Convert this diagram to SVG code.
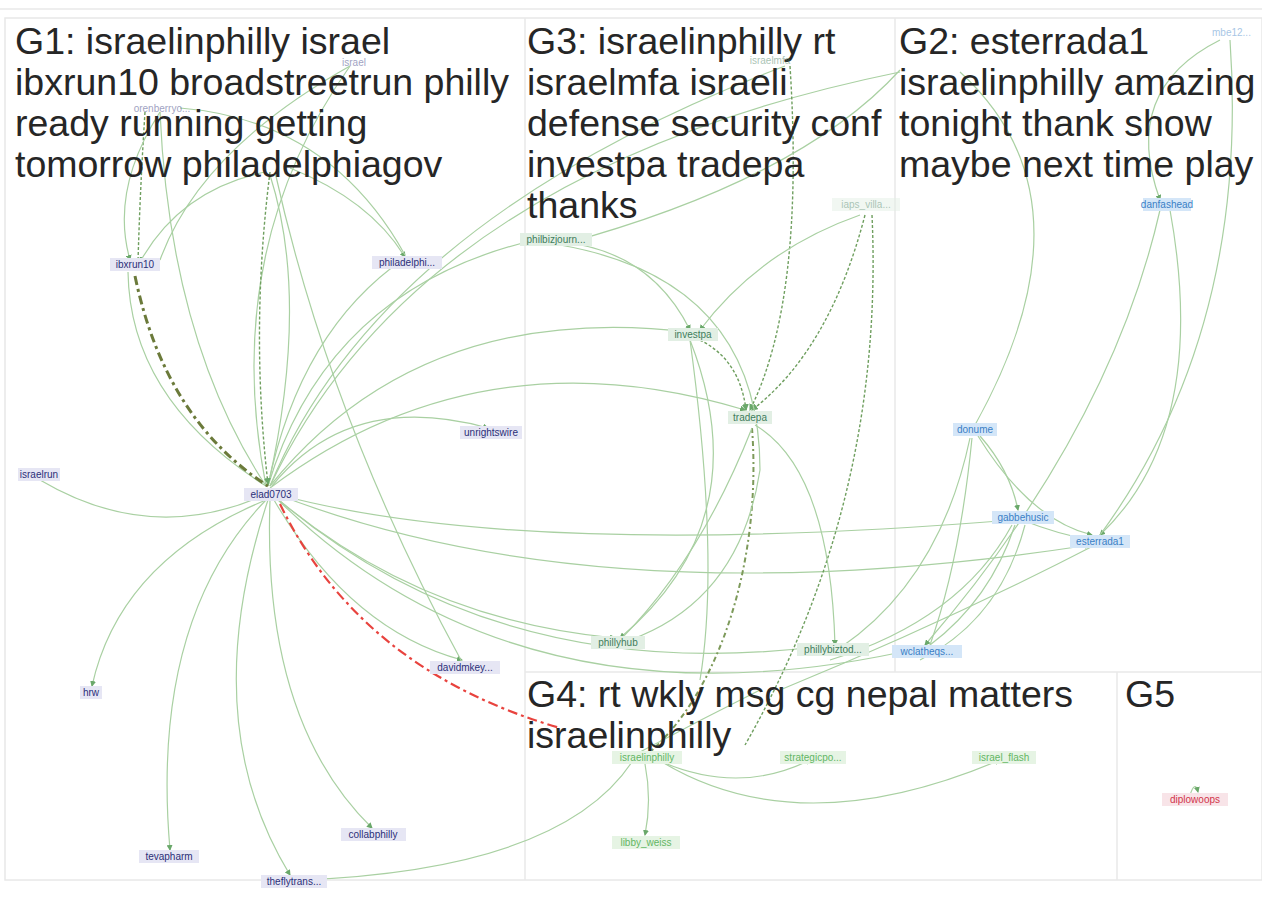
<svg xmlns="http://www.w3.org/2000/svg" width="1262" height="906" viewBox="0 0 1262 906">
<defs>
<marker id="ah" viewBox="0 0 6 6" refX="5" refY="3" markerWidth="5" markerHeight="5" orient="auto"><path d="M0,0 L6,3 L0,6 z" fill="#6aa86a"/></marker>
</defs>
<style>
.title{font-family:"Liberation Sans",Arial,sans-serif;font-size:37.5px;fill:#262626}
.lbl{font-family:"Liberation Sans",Arial,sans-serif;font-size:10px}
.g1 text{fill:#2b2f78}.g1 rect{fill:#e6e6f4}
.g3 text{fill:#3f7d5c}.g3 rect{fill:#e2efe4}
.g2 text{fill:#3a7fc6}.g2 rect{fill:#d4e6f8}
.g4 text{fill:#63b663}.g4 rect{fill:#e6f4e4}
.g5 text{fill:#d2344a}.g5 rect{fill:#f8e4e8}
.faint{opacity:.45}
.e{fill:none;stroke:#a9d0a2;stroke-width:1.2}
.ed{fill:none;stroke:#6f9f5f;stroke-width:1.4;stroke-dasharray:3 2}
.frame{fill:none;stroke:#e8e8e8;stroke-width:1.5}
</style>
<rect width="1262" height="906" fill="#ffffff"/>
<line x1="0" y1="9" x2="1262" y2="9" stroke="#eeeeee" stroke-width="2"/>
<g id="panels">
<rect class="frame" x="5" y="18" width="1257" height="862"/>
<line class="frame" x1="525" y1="18" x2="525" y2="880"/>
<line class="frame" x1="895" y1="18" x2="895" y2="672"/>
<line class="frame" x1="525" y1="672" x2="1262" y2="672"/>
<line class="frame" x1="1117" y1="672" x2="1117" y2="880"/>
</g>
<g id="connectors">
<!-- G1 -->
<path class="e" d="M40,480 Q150,545 262,496" marker-end="url(#ah)"/>
<path class="e" d="M266,500 Q120,560 92,686" marker-end="url(#ah)"/>
<path class="e" d="M266,500 Q150,620 170,850" marker-end="url(#ah)"/>
<path class="e" d="M268,500 Q195,720 290,875" marker-end="url(#ah)"/>
<path class="e" d="M270,500 Q262,720 372,828" marker-end="url(#ah)"/>
<path class="e" d="M274,500 Q350,630 462,660" marker-end="url(#ah)"/>
<path class="e" d="M272,486 Q350,390 488,428" marker-end="url(#ah)"/>
<path class="e" d="M268,486 Q300,330 405,258" marker-end="url(#ah)"/>
<path class="e" d="M268,486 Q330,280 553,236" marker-end="url(#ah)"/>
<path class="e" d="M270,486 Q420,170 900,72"/>
<path class="e" d="M270,486 Q380,220 785,66"/>
<path class="e" d="M266,486 Q130,400 128,272"/>
<path class="e" d="M266,486 Q170,340 160,112"/>
<path class="e" d="M266,486 Q220,250 350,66"/>
<path class="e" d="M268,486 Q310,300 270,175"/>
<path class="e" d="M270,486 Q420,300 690,332" marker-end="url(#ah)"/>
<path class="e" d="M270,488 Q480,330 745,410" marker-end="url(#ah)"/>
<path class="e" d="M274,496 Q420,620 615,638" marker-end="url(#ah)"/>
<path class="e" d="M274,496 Q500,690 830,645" marker-end="url(#ah)"/>
<path class="e" d="M274,496 Q520,740 920,648" marker-end="url(#ah)"/>
<path class="e" d="M276,494 Q600,620 1090,545" marker-end="url(#ah)"/>
<path class="e" d="M276,494 Q520,560 1012,520"/>
<path fill="none" stroke="#6b7a3a" stroke-width="3" stroke-dasharray="9 4 3 4" d="M135,276 Q165,420 268,486"/>
<path class="ed" d="M270,172 Q250,330 268,484" marker-end="url(#ah)"/>
<path class="ed" d="M145,112 Q140,190 138,262"/>
<path class="e" d="M160,112 Q110,190 130,260" marker-end="url(#ah)"/>
<path class="e" d="M350,66 Q200,150 160,260"/>
<path class="e" d="M265,172 Q180,190 140,262" marker-end="url(#ah)"/>
<path class="e" d="M290,168 Q370,200 405,257" marker-end="url(#ah)"/>
<path class="e" d="M275,172 Q330,420 462,662"/>
<path class="e" d="M180,108 Q330,120 405,255"/>
<path fill="none" stroke="#e8433e" stroke-width="2.2" stroke-dasharray="10 4 3 4" d="M280,504 Q360,670 560,728"/>
<!-- G3 -->
<path class="e" d="M560,242 Q650,250 690,330" marker-end="url(#ah)"/>
<path class="ed" d="M700,340 Q740,360 746,410" marker-end="url(#ah)"/>
<path class="ed" d="M790,66 Q805,300 750,410" marker-end="url(#ah)"/>
<path class="ed" d="M865,215 Q830,350 752,410" marker-end="url(#ah)"/>
<path class="e" d="M860,215 Q760,250 700,330" marker-end="url(#ah)"/>
<path class="ed" d="M872,215 Q885,500 745,745"/>
<path fill="none" stroke="#7d9a5a" stroke-width="2" stroke-dasharray="5 3 2 3" d="M752,428 C762,560 720,690 650,752"/>
<path class="e" d="M755,425 Q830,470 835,645" marker-end="url(#ah)"/>
<path class="e" d="M690,340 Q760,520 620,638" marker-end="url(#ah)"/>
<path class="e" d="M690,340 Q720,560 700,680"/>
<path class="e" d="M560,245 Q760,280 760,470 Q740,600 630,640"/>
<path class="e" d="M752,428 Q700,560 620,640"/>
<path class="e" d="M560,245 Q800,180 900,70"/>
<!-- G2 -->
<path class="e" d="M1170,210 Q1210,430 1100,535" marker-end="url(#ah)"/>
<path class="e" d="M1160,210 Q1110,430 925,645" marker-end="url(#ah)"/>
<path class="e" d="M1230,40 Q1250,330 1100,535"/>
<path class="e" d="M1220,40 Q1120,90 1160,200" marker-end="url(#ah)"/>
<path class="e" d="M980,436 Q1010,470 1018,510" marker-end="url(#ah)"/>
<path class="e" d="M978,436 Q1030,520 1092,535" marker-end="url(#ah)"/>
<path class="e" d="M972,438 Q960,560 930,645"/>
<path class="e" d="M970,438 Q940,580 840,648"/>
<path class="e" d="M1015,525 Q990,600 930,645"/>
<path class="e" d="M1012,525 Q960,620 830,660"/>
<path class="e" d="M1025,525 Q1000,620 920,660"/>
<path class="e" d="M1095,545 Q950,620 780,690"/>
<path class="e" d="M1022,520 Q1060,535 1092,540"/>
<path class="e" d="M960,72 Q1100,200 975,425"/>
<!-- G4 -->
<path class="e" d="M662,762 Q740,795 810,760" marker-end="url(#ah)"/>
<path class="e" d="M662,762 Q800,845 1000,760" marker-end="url(#ah)"/>
<path class="e" d="M645,764 Q652,800 645,835" marker-end="url(#ah)"/>
<path class="e" d="M632,762 Q560,870 300,880"/>
<path class="e" d="M640,752 Q700,720 760,690"/>
<!-- G5 -->
<path class="e" d="M1190,795 Q1195,780 1198,792" marker-end="url(#ah)"/>
</g>
<g class="title">
<text x="15" y="54">G1: israelinphilly israel</text>
<text x="15" y="95">ibxrun10 broadstreetrun philly</text>
<text x="15" y="136">ready running getting</text>
<text x="15" y="177">tomorrow philadelphiagov</text>
<text x="527" y="54">G3: israelinphilly rt</text>
<text x="527" y="95">israelmfa israeli</text>
<text x="527" y="136">defense security conf</text>
<text x="527" y="177">investpa tradepa</text>
<text x="527" y="218">thanks</text>
<text x="899" y="54">G2: esterrada1</text>
<text x="899" y="95">israelinphilly amazing</text>
<text x="899" y="136">tonight thank show</text>
<text x="899" y="177">maybe next time play</text>
<text x="527" y="707">G4: rt wkly msg cg nepal matters</text>
<text x="527" y="748">israelinphilly</text>
<text x="1125" y="707">G5</text>
</g>
<g class="lbl">
<g id="n-israel" class="g1 faint"><text x="354" y="66" text-anchor="middle">israel</text></g>
<g id="n-orenberryo" class="g1 faint"><text x="162" y="112" text-anchor="middle">orenberryo...</text></g>
<g id="n-ibxrun10" class="g1"><rect x="110" y="258" width="50" height="13"/><text x="135" y="268" text-anchor="middle">ibxrun10</text></g>
<g id="n-philadelphi" class="g1"><rect x="372" y="256" width="70" height="13"/><text x="407" y="266" text-anchor="middle">philadelphi...</text></g>
<g id="n-unrightswire" class="g1"><rect x="460" y="426" width="62" height="13"/><text x="491" y="436" text-anchor="middle">unrightswire</text></g>
<g id="n-israelrun" class="g1"><rect x="18" y="468" width="42" height="13"/><text x="39" y="478" text-anchor="middle">israelrun</text></g>
<g id="n-elad0703" class="g1"><rect x="244" y="488" width="54" height="13"/><text x="271" y="498" text-anchor="middle">elad0703</text></g>
<g id="n-davidmkey" class="g1"><rect x="430" y="661" width="70" height="13"/><text x="465" y="671" text-anchor="middle">davidmkey...</text></g>
<g id="n-hrw" class="g1"><rect x="80" y="686" width="22" height="13"/><text x="91" y="696" text-anchor="middle">hrw</text></g>
<g id="n-tevapharm" class="g1"><rect x="139" y="850" width="60" height="13"/><text x="169" y="860" text-anchor="middle">tevapharm</text></g>
<g id="n-collabphilly" class="g1"><rect x="341" y="828" width="65" height="13"/><text x="373" y="838" text-anchor="middle">collabphilly</text></g>
<g id="n-theflytrans" class="g1"><rect x="261" y="875" width="66" height="13"/><text x="294" y="885" text-anchor="middle">theflytrans...</text></g>
<g id="n-israelmfa" class="g3 faint"><text x="770" y="64" text-anchor="middle">israelmfa</text></g>
<g id="n-iaps" class="g3 faint"><rect x="832" y="198" width="68" height="13"/><text x="866" y="208" text-anchor="middle">iaps_villa...</text></g>
<g id="n-philbizjourn" class="g3"><rect x="520" y="233" width="72" height="13"/><text x="556" y="243" text-anchor="middle">philbizjourn...</text></g>
<g id="n-investpa" class="g3"><rect x="668" y="328" width="50" height="13"/><text x="693" y="338" text-anchor="middle">investpa</text></g>
<g id="n-tradepa" class="g3"><rect x="728" y="411" width="44" height="13"/><text x="750" y="421" text-anchor="middle">tradepa</text></g>
<g id="n-phillyhub" class="g3"><rect x="591" y="636" width="54" height="13"/><text x="618" y="646" text-anchor="middle">phillyhub</text></g>
<g id="n-phillybiztod" class="g3"><rect x="797" y="643" width="72" height="13"/><text x="833" y="653" text-anchor="middle">phillybiztod...</text></g>
<g id="n-mbe12" class="g2 faint"><text x="1212" y="36">mbe12...</text></g>
<g id="n-danfashead" class="g2"><rect x="1143" y="198" width="48" height="13"/><text x="1167" y="208" text-anchor="middle">danfashead</text></g>
<g id="n-donume" class="g2"><rect x="953" y="423" width="44" height="13"/><text x="975" y="433" text-anchor="middle">donume</text></g>
<g id="n-gabbehusic" class="g2"><rect x="992" y="511" width="62" height="13"/><text x="1023" y="521" text-anchor="middle">gabbehusic</text></g>
<g id="n-esterrada1" class="g2"><rect x="1070" y="535" width="60" height="13"/><text x="1100" y="545" text-anchor="middle">esterrada1</text></g>
<g id="n-wclatheqs" class="g2"><rect x="892" y="645" width="70" height="13"/><text x="927" y="655" text-anchor="middle">wclatheqs...</text></g>
<g id="n-israelinphilly" class="g4"><rect x="612" y="751" width="70" height="13"/><text x="647" y="761" text-anchor="middle">israelinphilly</text></g>
<g id="n-strategicpo" class="g4"><rect x="780" y="751" width="66" height="13"/><text x="813" y="761" text-anchor="middle">strategicpo...</text></g>
<g id="n-israelflash" class="g4"><rect x="972" y="751" width="64" height="13"/><text x="1004" y="761" text-anchor="middle">israel_flash</text></g>
<g id="n-libbyweiss" class="g4"><rect x="612" y="836" width="68" height="13"/><text x="646" y="846" text-anchor="middle">libby_weiss</text></g>
<g id="n-diplowoops" class="g5"><rect x="1162" y="793" width="66" height="13"/><text x="1195" y="803" text-anchor="middle">diplowoops</text></g>
</g>
</svg>
